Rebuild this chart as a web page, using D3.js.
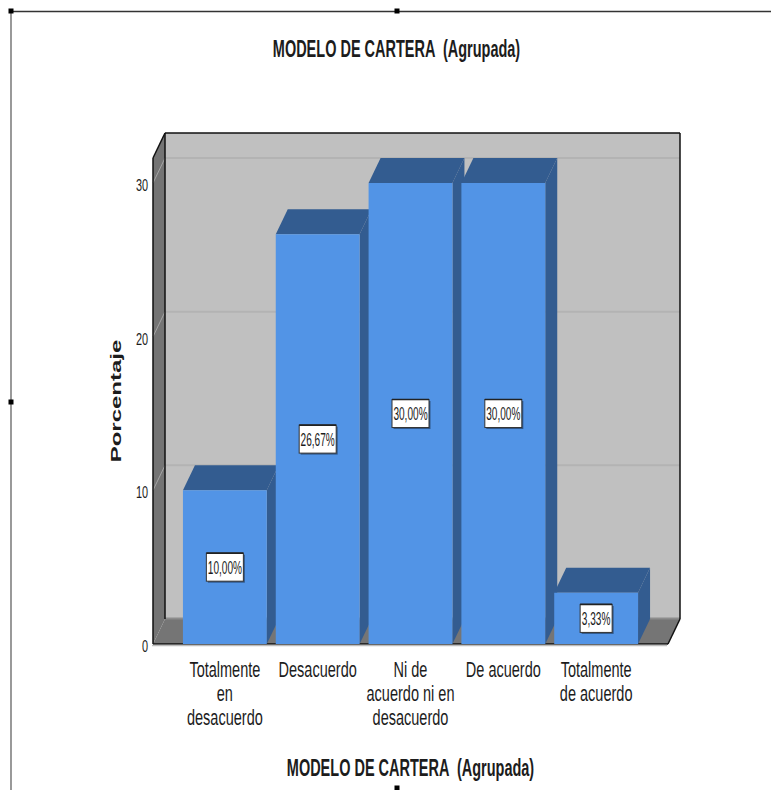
<!DOCTYPE html>
<html lang="es">
<head>
<meta charset="utf-8">
<title>MODELO DE CARTERA (Agrupada)</title>
<script src="https://cdn.jsdelivr.net/npm/d3@7"></script>
<style>
  html, body { margin: 0; padding: 0; background: #fff; }
  svg { display: block; }
  text { font-family: "Liberation Sans", Arial, sans-serif; fill: #1c1c1c; }
</style>
</head>
<body>
<svg id="chart" width="771" height="790"></svg>
<script>
// Survey results, percentage of respondents per answer
const categories = ["Totalmente en desacuerdo", "Desacuerdo", "Ni de acuerdo ni en desacuerdo", "De acuerdo", "Totalmente de acuerdo"];
const categoryLines = [["Totalmente", "en", "desacuerdo"], ["Desacuerdo"], ["Ni de", "acuerdo ni en", "desacuerdo"], ["De acuerdo"], ["Totalmente", "de acuerdo"]];
const percentages = [10.00, 26.67, 30.00, 30.00, 3.33];
const percentLabels = ["10,00%", "26,67%", "30,00%", "30,00%", "3,33%"];
const yTicks = [0, 10, 20, 30];
const chartTitle = "MODELO DE CARTERA  (Agrupada)";
const yTitle = "Porcentaje";

const svg = d3.select("#chart");

// Front plane of the 3D box, and the offset to its back plane
const depthX = 12, depthY = -25;
const x = d3.scaleBand().domain(categories).range([153, 668]).paddingInner(9 / 93).paddingOuter(30 / 93);
const y = d3.scaleLinear().domain([0, 31.63]).range([644, 158]);

const poly = (pts, fill) => svg.append("polygon").attr("points", pts.map(p => p.join(",")).join(" ")).attr("fill", fill);
const line = (x1, y1, x2, y2, stroke, w) => svg.append("line").attr("x1", x1).attr("y1", y1).attr("x2", x2).attr("y2", y2)
  .attr("stroke", stroke).attr("stroke-width", w);

// Text is condensed horizontally, as in the exported viewer output
function squeezed(str, px, py, size, sx, opts = {}) {
  return svg.append("text")
    .attr("transform", `translate(${px},${py}) scale(${sx},1)`)
    .attr("text-anchor", opts.anchor || "middle")
    .attr("font-size", size)
    .attr("font-weight", opts.weight || "normal")
    .style("white-space", "pre")
    .text(str);
}

// Selection frame with its handles
line(11, 11.5, 771, 11.5, "#333", 1.6);
line(11, 11, 11, 790, "#808080", 1.6);
[[11, 11], [397, 11], [11, 402], [397, 788]].forEach(([hx, hy]) =>
  svg.append("rect").attr("x", hx - 2.5).attr("y", hy - 2.5).attr("width", 5).attr("height", 5).attr("fill", "#000"));

// Box walls
const [x0, x1] = x.range();
const boxBase = y(0), boxTop = y(y.domain()[1]);
poly([[x0 + depthX, boxTop + depthY], [x1 + depthX, boxTop + depthY], [x1 + depthX, boxBase + depthY], [x0 + depthX, boxBase + depthY]], "#c0c0c0");
poly([[x0, boxTop], [x0 + depthX, boxTop + depthY], [x0 + depthX, boxBase + depthY], [x0, boxBase]], "#747474");
poly([[x0, boxBase], [x0 + depthX, boxBase + depthY], [x1 + depthX, boxBase + depthY], [x1, boxBase]], "#757575");
line(x0 + depthX, boxBase + depthY - 0.5, x1 + depthX, boxBase + depthY - 0.5, "#8c8c8c", 2);

// Gridlines on the side and back walls
yTicks.filter(t => t > 0).forEach(t => {
  line(x0, y(t), x0 + depthX, y(t) + depthY, "#a5a5a5", 1);
  line(x0 + depthX, y(t) + depthY, x1 + depthX, y(t) + depthY, "#b3b3b3", 2);
});

// Box outline
line(x0 + depthX, boxTop + depthY, x1 + depthX, boxTop + depthY, "#111", 1.5);
line(x0 + depthX, boxTop + depthY, x0 + depthX, boxBase + depthY, "#111", 1.5);
line(x1 + depthX, boxTop + depthY, x1 + depthX, boxBase + depthY, "#111", 1.5);
line(x0, boxTop, x0 + depthX, boxTop + depthY, "#111", 1.5);
line(x0, boxTop, x0, boxBase, "#111", 1.5);
line(x1, boxBase, x1 + depthX, boxBase + depthY, "#111", 1.5);
line(x0, boxBase, x1, boxBase, "#111", 1.5);
line(x0 - 1, boxBase + 1.5, x1 - 1, boxBase + 1.5, "#bdbdbd", 1.5);

// Bars: side and top faces first, then the front face
percentages.forEach((v, i) => {
  const c = categories[i];
  const l = x(c), r = l + x.bandwidth(), t = y(v);
  poly([[r, t], [r + depthX, t + depthY], [r + depthX, boxBase + depthY], [r, boxBase]], "#335c90");
  poly([[l, t], [l + depthX, t + depthY], [r + depthX, t + depthY], [r, t]], "#335c90");
  poly([[l, t], [r, t], [r, boxBase], [l, boxBase]], "#5294e6");
});

// Value labels at the middle of each bar
percentages.forEach((v, i) => {
  const cx = x(categories[i]) + x.bandwidth() / 2;
  const cy = y(v / 2);
  const w = percentLabels[i].length > 5 ? 37 : 32;
  svg.append("rect").attr("x", cx - w / 2 + 1.5).attr("y", cy - 12.5).attr("width", w).attr("height", 28).attr("fill", "#2f5688");
  svg.append("rect").attr("x", cx - w / 2).attr("y", cy - 14).attr("width", w).attr("height", 28)
    .attr("fill", "#fff").attr("stroke", "#333").attr("stroke-width", 1);
  line(cx - w / 2, cy - 14, cx + w / 2, cy - 14, "#222", 1.6);
  squeezed(percentLabels[i], cx, cy + 6.5, 18, 0.56);
});

// Y axis labels
yTicks.forEach(t => squeezed(String(t), 148, y(t) + 8, 17, 0.64, { anchor: "end" }));

// Category labels
categoryLines.forEach((lines, i) => {
  const cx = x(categories[i]) + x.bandwidth() / 2;
  lines.forEach((s, j) => squeezed(s, cx, 676.5 + j * 24, 22, 0.66));
});

// Titles
squeezed(chartTitle, 396.5, 57, 23, 0.63, { weight: "bold" });
squeezed(chartTitle, 410.5, 776, 23, 0.63, { weight: "bold" });
svg.append("text")
  .attr("transform", "translate(121,401) rotate(-90) scale(1.6,1)")
  .attr("text-anchor", "middle")
  .attr("font-size", 15)
  .attr("font-weight", "bold")
  .text(yTitle);
</script>
</body>
</html>
